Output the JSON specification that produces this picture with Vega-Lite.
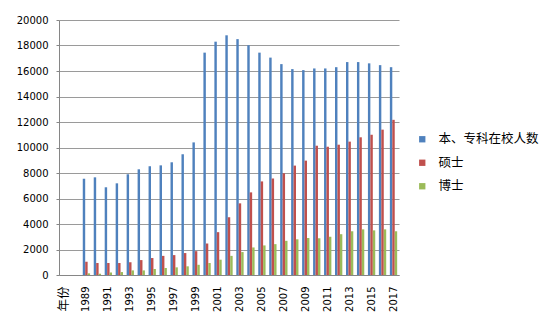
{
  "$schema": "https://vega.github.io/schema/vega-lite/v6.json",
  "autosize": {"type": "none"},
  "padding": {"left": 59, "top": 20, "right": 158, "bottom": 51},
  "width": 340,
  "height": 255,
  "background": "white",
  "config": {
    "view": {"stroke": null},
    "axis": {"labelFont": "DejaVu Sans", "labelFontSize": 10, "labelColor": "#000000"},
    "legend": {"labelFont": "Noto Sans CJK SC", "labelFontSize": 12.5, "labelColor": "#000000"}
  },
  "datasets": {
    "rows": [
      {"year": "1989", "s": "本、专科在校人数", "v": 7550},
      {"year": "1990", "s": "本、专科在校人数", "v": 7660},
      {"year": "1991", "s": "本、专科在校人数", "v": 6880},
      {"year": "1992", "s": "本、专科在校人数", "v": 7190},
      {"year": "1993", "s": "本、专科在校人数", "v": 7900},
      {"year": "1994", "s": "本、专科在校人数", "v": 8290},
      {"year": "1995", "s": "本、专科在校人数", "v": 8530},
      {"year": "1996", "s": "本、专科在校人数", "v": 8600},
      {"year": "1997", "s": "本、专科在校人数", "v": 8840},
      {"year": "1998", "s": "本、专科在校人数", "v": 9470},
      {"year": "1999", "s": "本、专科在校人数", "v": 10400},
      {"year": "2000", "s": "本、专科在校人数", "v": 17440},
      {"year": "2001", "s": "本、专科在校人数", "v": 18300},
      {"year": "2002", "s": "本、专科在校人数", "v": 18800},
      {"year": "2003", "s": "本、专科在校人数", "v": 18500},
      {"year": "2004", "s": "本、专科在校人数", "v": 18020},
      {"year": "2005", "s": "本、专科在校人数", "v": 17440},
      {"year": "2006", "s": "本、专科在校人数", "v": 17050},
      {"year": "2007", "s": "本、专科在校人数", "v": 16540},
      {"year": "2008", "s": "本、专科在校人数", "v": 16150},
      {"year": "2009", "s": "本、专科在校人数", "v": 16070},
      {"year": "2010", "s": "本、专科在校人数", "v": 16200},
      {"year": "2011", "s": "本、专科在校人数", "v": 16200},
      {"year": "2012", "s": "本、专科在校人数", "v": 16300},
      {"year": "2013", "s": "本、专科在校人数", "v": 16700},
      {"year": "2014", "s": "本、专科在校人数", "v": 16700},
      {"year": "2015", "s": "本、专科在校人数", "v": 16600},
      {"year": "2016", "s": "本、专科在校人数", "v": 16460},
      {"year": "2017", "s": "本、专科在校人数", "v": 16300},
      {"year": "1989", "s": "硕士", "v": 1040},
      {"year": "1990", "s": "硕士", "v": 940},
      {"year": "1991", "s": "硕士", "v": 940},
      {"year": "1992", "s": "硕士", "v": 940},
      {"year": "1993", "s": "硕士", "v": 1000},
      {"year": "1994", "s": "硕士", "v": 1170},
      {"year": "1995", "s": "硕士", "v": 1330},
      {"year": "1996", "s": "硕士", "v": 1500},
      {"year": "1997", "s": "硕士", "v": 1560},
      {"year": "1998", "s": "硕士", "v": 1720},
      {"year": "1999", "s": "硕士", "v": 1870},
      {"year": "2000", "s": "硕士", "v": 2470},
      {"year": "2001", "s": "硕士", "v": 3360},
      {"year": "2002", "s": "硕士", "v": 4530},
      {"year": "2003", "s": "硕士", "v": 5620},
      {"year": "2004", "s": "硕士", "v": 6480},
      {"year": "2005", "s": "硕士", "v": 7340},
      {"year": "2006", "s": "硕士", "v": 7570},
      {"year": "2007", "s": "硕士", "v": 7980},
      {"year": "2008", "s": "硕士", "v": 8580},
      {"year": "2009", "s": "硕士", "v": 8970},
      {"year": "2010", "s": "硕士", "v": 10140},
      {"year": "2011", "s": "硕士", "v": 10060},
      {"year": "2012", "s": "硕士", "v": 10220},
      {"year": "2013", "s": "硕士", "v": 10460},
      {"year": "2014", "s": "硕士", "v": 10800},
      {"year": "2015", "s": "硕士", "v": 11000},
      {"year": "2016", "s": "硕士", "v": 11400},
      {"year": "2017", "s": "硕士", "v": 12170},
      {"year": "1989", "s": "博士", "v": 130},
      {"year": "1990", "s": "博士", "v": 100},
      {"year": "1991", "s": "博士", "v": 200},
      {"year": "1992", "s": "博士", "v": 230},
      {"year": "1993", "s": "博士", "v": 360},
      {"year": "1994", "s": "博士", "v": 360},
      {"year": "1995", "s": "博士", "v": 470},
      {"year": "1996", "s": "博士", "v": 550},
      {"year": "1997", "s": "博士", "v": 600},
      {"year": "1998", "s": "博士", "v": 680},
      {"year": "1999", "s": "博士", "v": 800},
      {"year": "2000", "s": "博士", "v": 940},
      {"year": "2001", "s": "博士", "v": 1200},
      {"year": "2002", "s": "博士", "v": 1500},
      {"year": "2003", "s": "博士", "v": 1800},
      {"year": "2004", "s": "博士", "v": 2160},
      {"year": "2005", "s": "博士", "v": 2320},
      {"year": "2006", "s": "博士", "v": 2420},
      {"year": "2007", "s": "博士", "v": 2680},
      {"year": "2008", "s": "博士", "v": 2800},
      {"year": "2009", "s": "博士", "v": 2900},
      {"year": "2010", "s": "博士", "v": 2880},
      {"year": "2011", "s": "博士", "v": 3000},
      {"year": "2012", "s": "博士", "v": 3200},
      {"year": "2013", "s": "博士", "v": 3430},
      {"year": "2014", "s": "博士", "v": 3580},
      {"year": "2015", "s": "博士", "v": 3500},
      {"year": "2016", "s": "博士", "v": 3580},
      {"year": "2017", "s": "博士", "v": 3430}
    ]
  },
  "data": {"name": "rows"},
  "mark": {"type": "bar"},
  "encoding": {
    "x": {
      "field": "year",
      "type": "nominal",
      "scale": {
        "domain": ["年份", "1988", "1989", "1990", "1991", "1992", "1993", "1994", "1995", "1996", "1997", "1998", "1999", "2000", "2001", "2002", "2003", "2004", "2005", "2006", "2007", "2008", "2009", "2010", "2011", "2012", "2013", "2014", "2015", "2016", "2017"],
        "paddingInner": 0.333,
        "paddingOuter": 0.1667
      },
      "axis": {
        "title": null,
        "values": ["年份", "1989", "1991", "1993", "1995", "1997", "1999", "2001", "2003", "2005", "2007", "2009", "2011", "2013", "2015", "2017"],
        "labelAngle": -90,
        "labelAlign": "right",
        "labelBaseline": "middle",
        "labelPadding": 11,
        "labelFontSize": {"condition": {"test": "datum.value == '年份'", "value": 12.5}, "value": 10},
        "labelFont": {"condition": {"test": "datum.value == '年份'", "value": "Noto Sans CJK SC"}, "value": "DejaVu Sans"},
        "ticks": false,
        "domainColor": "#868686",
        "domainWidth": 1,
        "grid": false
      }
    },
    "xOffset": {
      "field": "s",
      "type": "nominal",
      "scale": {"domain": ["本、专科在校人数", "硕士", "博士"], "paddingInner": 0, "paddingOuter": 0}
    },
    "y": {
      "field": "v",
      "type": "quantitative",
      "scale": {"domain": [0, 20000], "nice": false},
      "axis": {
        "title": null,
        "values": [0, 2000, 4000, 6000, 8000, 10000, 12000, 14000, 16000, 18000, 20000],
        "format": "d",
        "grid": true,
        "gridColor": "#9a9a9a",
        "gridWidth": 1.2,
        "domainColor": "#868686",
        "domainWidth": 1,
        "tickColor": "#868686",
        "tickSize": 3,
        "labelPadding": 8
      }
    },
    "color": {
      "field": "s",
      "type": "nominal",
      "scale": {"domain": ["本、专科在校人数", "硕士", "博士"], "range": ["#4F81BD", "#C0504D", "#9BBB59"]},
      "legend": {
        "title": null,
        "orient": "none",
        "legendX": 357,
        "legendY": 113,
        "symbolType": "square",
        "symbolSize": 40,
        "symbolStrokeWidth": 0,
        "labelOffset": 10,
        "rowPadding": 10.5
      }
    }
  }
}
